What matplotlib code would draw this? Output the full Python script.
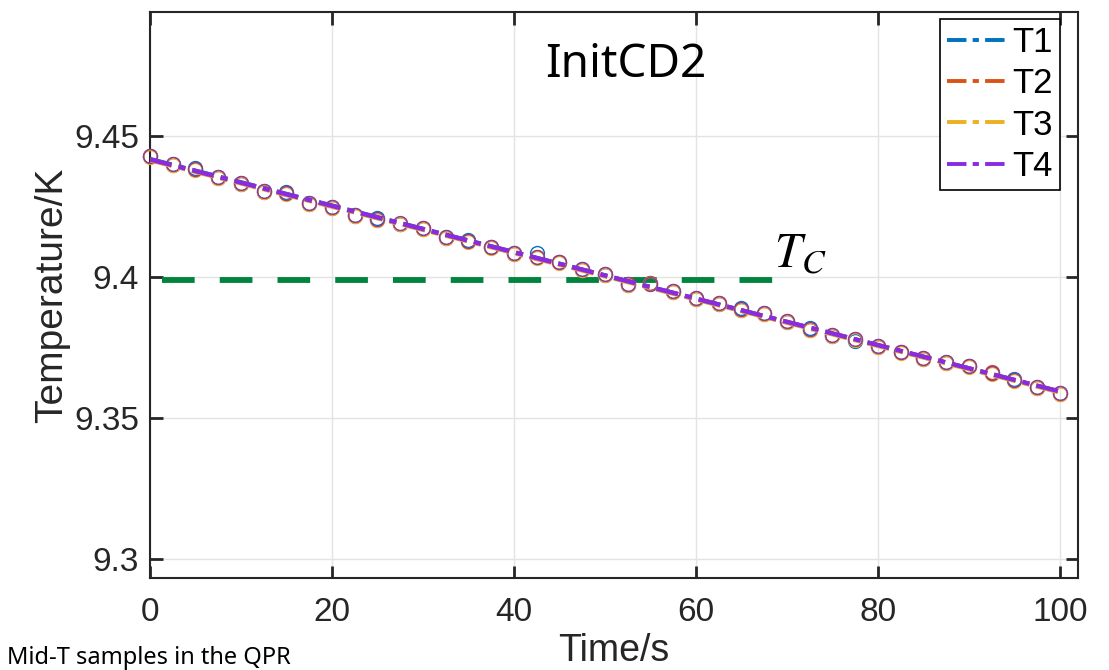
import numpy as np
import matplotlib
matplotlib.use("Agg")
import matplotlib.pyplot as plt
from matplotlib.ticker import FixedLocator, FuncFormatter

# ---------------- data ----------------
time_s = [0, 2.5, 5, 7.5, 10, 12.5, 15, 17.5, 20, 22.5, 25, 27.5, 30, 32.5, 35, 37.5,
          40, 42.5, 45, 47.5, 50, 52.5, 55, 57.5, 60, 62.5, 65, 67.5, 70, 72.5, 75,
          77.5, 80, 82.5, 85, 87.5, 90, 92.5, 95, 97.5, 100]

T1 = [9.4428, 9.4402, 9.4386, 9.4356, 9.4331, 9.4306, 9.4302, 9.4263, 9.4247, 9.4221,
      9.4208, 9.4190, 9.4173, 9.4143, 9.4130, 9.4107, 9.4084, 9.4086, 9.4052, 9.4027,
      9.4009, 9.3973, 9.3978, 9.3951, 9.3924, 9.3905, 9.3889, 9.3871, 9.3842, 9.3818,
      9.3792, 9.3772, 9.3754, 9.3735, 9.3711, 9.3700, 9.3683, 9.3661, 9.3637, 9.3609,
      9.3589]
T2 = [9.4429, 9.4399, 9.4384, 9.4353, 9.4332, 9.4303, 9.4299, 9.4260, 9.4246, 9.4218,
      9.4204, 9.4190, 9.4172, 9.4140, 9.4127, 9.4108, 9.4083, 9.4070, 9.4055, 9.4026,
      9.4012, 9.3974, 9.3978, 9.3948, 9.3925, 9.3909, 9.3885, 9.3870, 9.3843, 9.3814,
      9.3795, 9.3779, 9.3753, 9.3733, 9.3714, 9.3697, 9.3683, 9.3662, 9.3634, 9.3608,
      9.3587]
T3 = [9.4427, 9.4398, 9.4381, 9.4352, 9.4330, 9.4302, 9.4296, 9.4259, 9.4245, 9.4217,
      9.4203, 9.4188, 9.4171, 9.4139, 9.4125, 9.4103, 9.4082, 9.4068, 9.4050, 9.4025,
      9.4008, 9.3973, 9.3977, 9.3947, 9.3923, 9.3906, 9.3884, 9.3869, 9.3841, 9.3813,
      9.3791, 9.3776, 9.3752, 9.3731, 9.3710, 9.3696, 9.3681, 9.3657, 9.3632, 9.3607,
      9.3586]
T4 = [9.4429, 9.4401, 9.4383, 9.4355, 9.4333, 9.4305, 9.4298, 9.4262, 9.4248, 9.4220,
      9.4206, 9.4191, 9.4174, 9.4142, 9.4128, 9.4106, 9.4085, 9.4071, 9.4053, 9.4028,
      9.4011, 9.3975, 9.3975, 9.3950, 9.3926, 9.3908, 9.3887, 9.3872, 9.3844, 9.3816,
      9.3794, 9.3780, 9.3755, 9.3734, 9.3713, 9.3699, 9.3684, 9.3660, 9.3635, 9.3610,
      9.3589]

series_names = ["T1", "T2", "T3", "T4"]
series_values = [T1, T2, T3, T4]

tc_time = [1.3, 68.5]
tc_temp = [9.3990, 9.3990]

x_ticks = [0, 20, 40, 60, 80, 100]
y_ticks = [9.30, 9.35, 9.40, 9.45]

# ---------------- style ----------------
line_colors = ["#0072BD", "#D95319", "#EDB120", "#8A2BE2"]
marker_colors = ["#0072BD", "#D95319", "#EDB120", "#8E3A9E"]
dashdot = (0, (5, 1.6, 1.6, 1.6))

plt.rcParams['mathtext.fontset'] = 'stix'

fig = plt.figure(figsize=(11.09, 6.70), dpi=100)
ax = fig.add_axes([150/1109, 1-578/670, (1078-150)/1109, (578-12)/670])

t = np.array(time_s)
for vals, mc in zip(series_values, marker_colors):
    ax.plot(t, vals, linestyle='none', marker='o', markersize=10,
            markerfacecolor='none', markeredgecolor=mc, markeredgewidth=1.0,
            clip_on=False, zorder=3)

handles = []
for name, vals, lc in zip(series_names, series_values, line_colors):
    p = np.polyfit(t, vals, 1)
    xx = np.array([t[0], t[-1]])
    h, = ax.plot(xx, np.polyval(p, xx), color=lc, lw=3.2, linestyle=dashdot,
                 zorder=4, label=name)
    handles.append(h)

ax.plot(tc_time, tc_temp, color='#00843D', lw=4.2, linestyle=(0, (5.6, 4.3)),
        zorder=2)
ax.text(68.6, 9.4035, r'$T_C$', fontsize=35, color='black', ha='left',
        va='baseline')

ax.text(0.5125, 0.885, 'InitCD2', transform=ax.transAxes, fontsize=33,
        family='Noto Sans', ha='center', va='baseline')

ax.set_xlim(0, 102)
ax.set_ylim(9.2933, 9.494)
ax.xaxis.set_major_locator(FixedLocator(x_ticks))
ax.yaxis.set_major_locator(FixedLocator(y_ticks))
ax.yaxis.set_major_formatter(FuncFormatter(lambda v, pos: f"{v:g}"))

ax.grid(True, color='#E3E3E3', lw=1.0, zorder=0)
ax.set_axisbelow(True)

for s in ax.spines.values():
    s.set_color('#262626')
    s.set_linewidth(1.5)

ax.tick_params(direction='in', length=9, width=2, top=True, right=True,
               colors='#262626', labelsize=24)
ax.tick_params(axis='x', pad=14)
ax.tick_params(axis='y', pad=8)
for lab in ax.get_xticklabels() + ax.get_yticklabels():
    lab.set_family('Liberation Sans')

ax.set_xlabel('Time/s', fontsize=27, family='Liberation Sans', color='#262626',
              labelpad=3)
ax.set_ylabel('Temperature/K', fontsize=28, family='Liberation Sans',
              color='#262626', labelpad=3)

leg = ax.legend(handles=handles, loc='upper right',
                bbox_to_anchor=((1060-150)/928, (578-19)/566),
                borderaxespad=0, handlelength=1.75,
                handletextpad=0.15, labelspacing=0.24, borderpad=0.2,
                fancybox=False, framealpha=1, edgecolor='black',
                prop={'family': 'Liberation Sans', 'size': 25})
leg.get_frame().set_linewidth(1.2)
for lh in leg.get_lines():
    lh.set_linewidth(2.8)

fig.text(7/1109, 1-664/670, 'Mid-T samples in the QPR', fontsize=17,
         family='Noto Sans', ha='left', va='baseline')

fig.savefig('out.png', dpi=100)
